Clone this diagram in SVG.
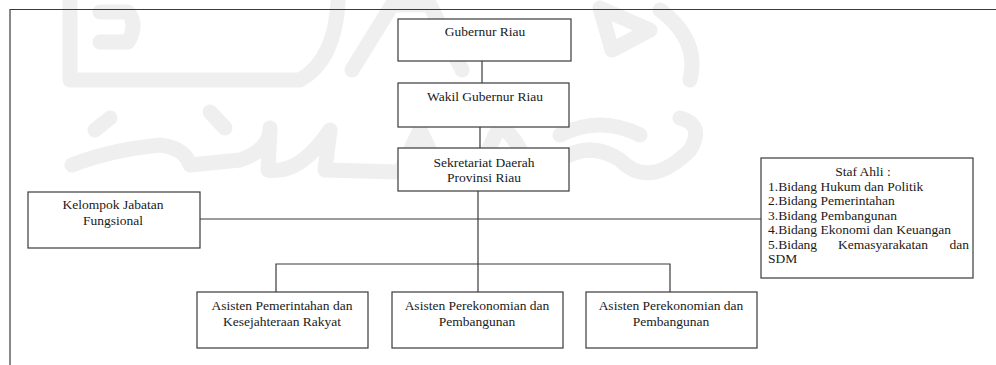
<svg xmlns="http://www.w3.org/2000/svg" width="996" height="365" viewBox="0 0 996 365">
<style>
.box{fill:#fff;stroke:#3a3a3a;stroke-width:1.2}
.ln{fill:none;stroke:#3a3a3a;stroke-width:1.2}
.wm{fill:none;stroke:#efefef;stroke-width:15;stroke-linecap:round;stroke-linejoin:round}
text{font-family:"Liberation Serif","Times New Roman",serif;font-size:13.5px;fill:#1a1a1a}
.c{text-anchor:middle}
</style>
<rect width="996" height="365" fill="#fff"/>
<g id="watermark">
<path class="wm" d="M70 2 V80 H300 Q335 60 338 2"/>
<path class="wm" d="M100 12 H128 Q138 25 128 42 H100"/>
<path class="wm" d="M352 70 L392 5 L430 5 L462 70"/>
<path class="wm" d="M600 8 L650 30 L612 50 Z"/>
<path class="wm" d="M660 10 Q700 40 690 80"/>
<path class="wm" d="M72 165 Q110 150 160 145 Q185 148 190 165 L240 160 Q270 150 270 128 L268 170 Q300 175 330 130 L325 170 L400 172 L420 130 L440 172 L480 168 L500 125 Q520 140 530 175 L560 160 Q590 140 620 160 Q650 190 690 150 Q705 125 680 118"/>
<path class="wm" d="M95 130 L110 118 M210 112 L225 128 M560 135 Q600 115 640 135"/>
</g>
<g id="frame">
<path class="ln" d="M10 365 V9.5 H996"/>
</g>
<g id="connectors">
<path class="ln" d="M482 61 V83"/>
<path class="ln" d="M480 127 V148"/>
<path class="ln" d="M478 191 V292"/>
<path class="ln" d="M200 219 H761"/>
<path class="ln" d="M276 292 V264 H670 V292"/>
</g>
<g id="gubernur">
<rect class="box" x="398" y="19" width="173" height="42"/>
<text class="c" x="485" y="36">Gubernur Riau</text>
</g>
<g id="wakil">
<rect class="box" x="398" y="83" width="171" height="44"/>
<text class="c" x="485" y="101">Wakil Gubernur Riau</text>
</g>
<g id="sekretariat">
<rect class="box" x="398" y="148" width="171" height="43"/>
<text class="c" x="484" y="167">Sekretariat Daerah</text>
<text class="c" x="484" y="182">Provinsi Riau</text>
</g>
<g id="kelompok">
<rect class="box" x="28" y="192" width="172" height="56"/>
<text class="c" x="113" y="209">Kelompok Jabatan</text>
<text class="c" x="113" y="225">Fungsional</text>
</g>
<g id="stafahli">
<rect class="box" x="761" y="158" width="212" height="120"/>
<text class="c" x="863" y="176">Staf Ahli :</text>
<text x="768" y="190.5">1.Bidang Hukum dan Politik</text>
<text x="768" y="205">2.Bidang Pemerintahan</text>
<text x="768" y="219.5">3.Bidang Pembangunan</text>
<text x="768" y="234">4.Bidang Ekonomi dan Keuangan</text>
<text x="768" y="248.5">5.Bidang</text>
<text class="c" x="883" y="248.5">Kemasyarakatan</text>
<text x="969" y="248.5" text-anchor="end">dan</text>
<text x="768" y="263">SDM</text>
</g>
<g id="asisten1">
<rect class="box" x="197" y="292" width="171" height="56"/>
<text class="c" x="282" y="310">Asisten Pemerintahan dan</text>
<text class="c" x="282" y="326">Kesejahteraan Rakyat</text>
</g>
<g id="asisten2">
<rect class="box" x="392" y="292" width="171" height="56"/>
<text class="c" x="477" y="310">Asisten Perekonomian dan</text>
<text class="c" x="477" y="326">Pembangunan</text>
</g>
<g id="asisten3">
<rect class="box" x="586" y="292" width="171" height="56"/>
<text class="c" x="671" y="310">Asisten Perekonomian dan</text>
<text class="c" x="671" y="326">Pembangunan</text>
</g>
</svg>
